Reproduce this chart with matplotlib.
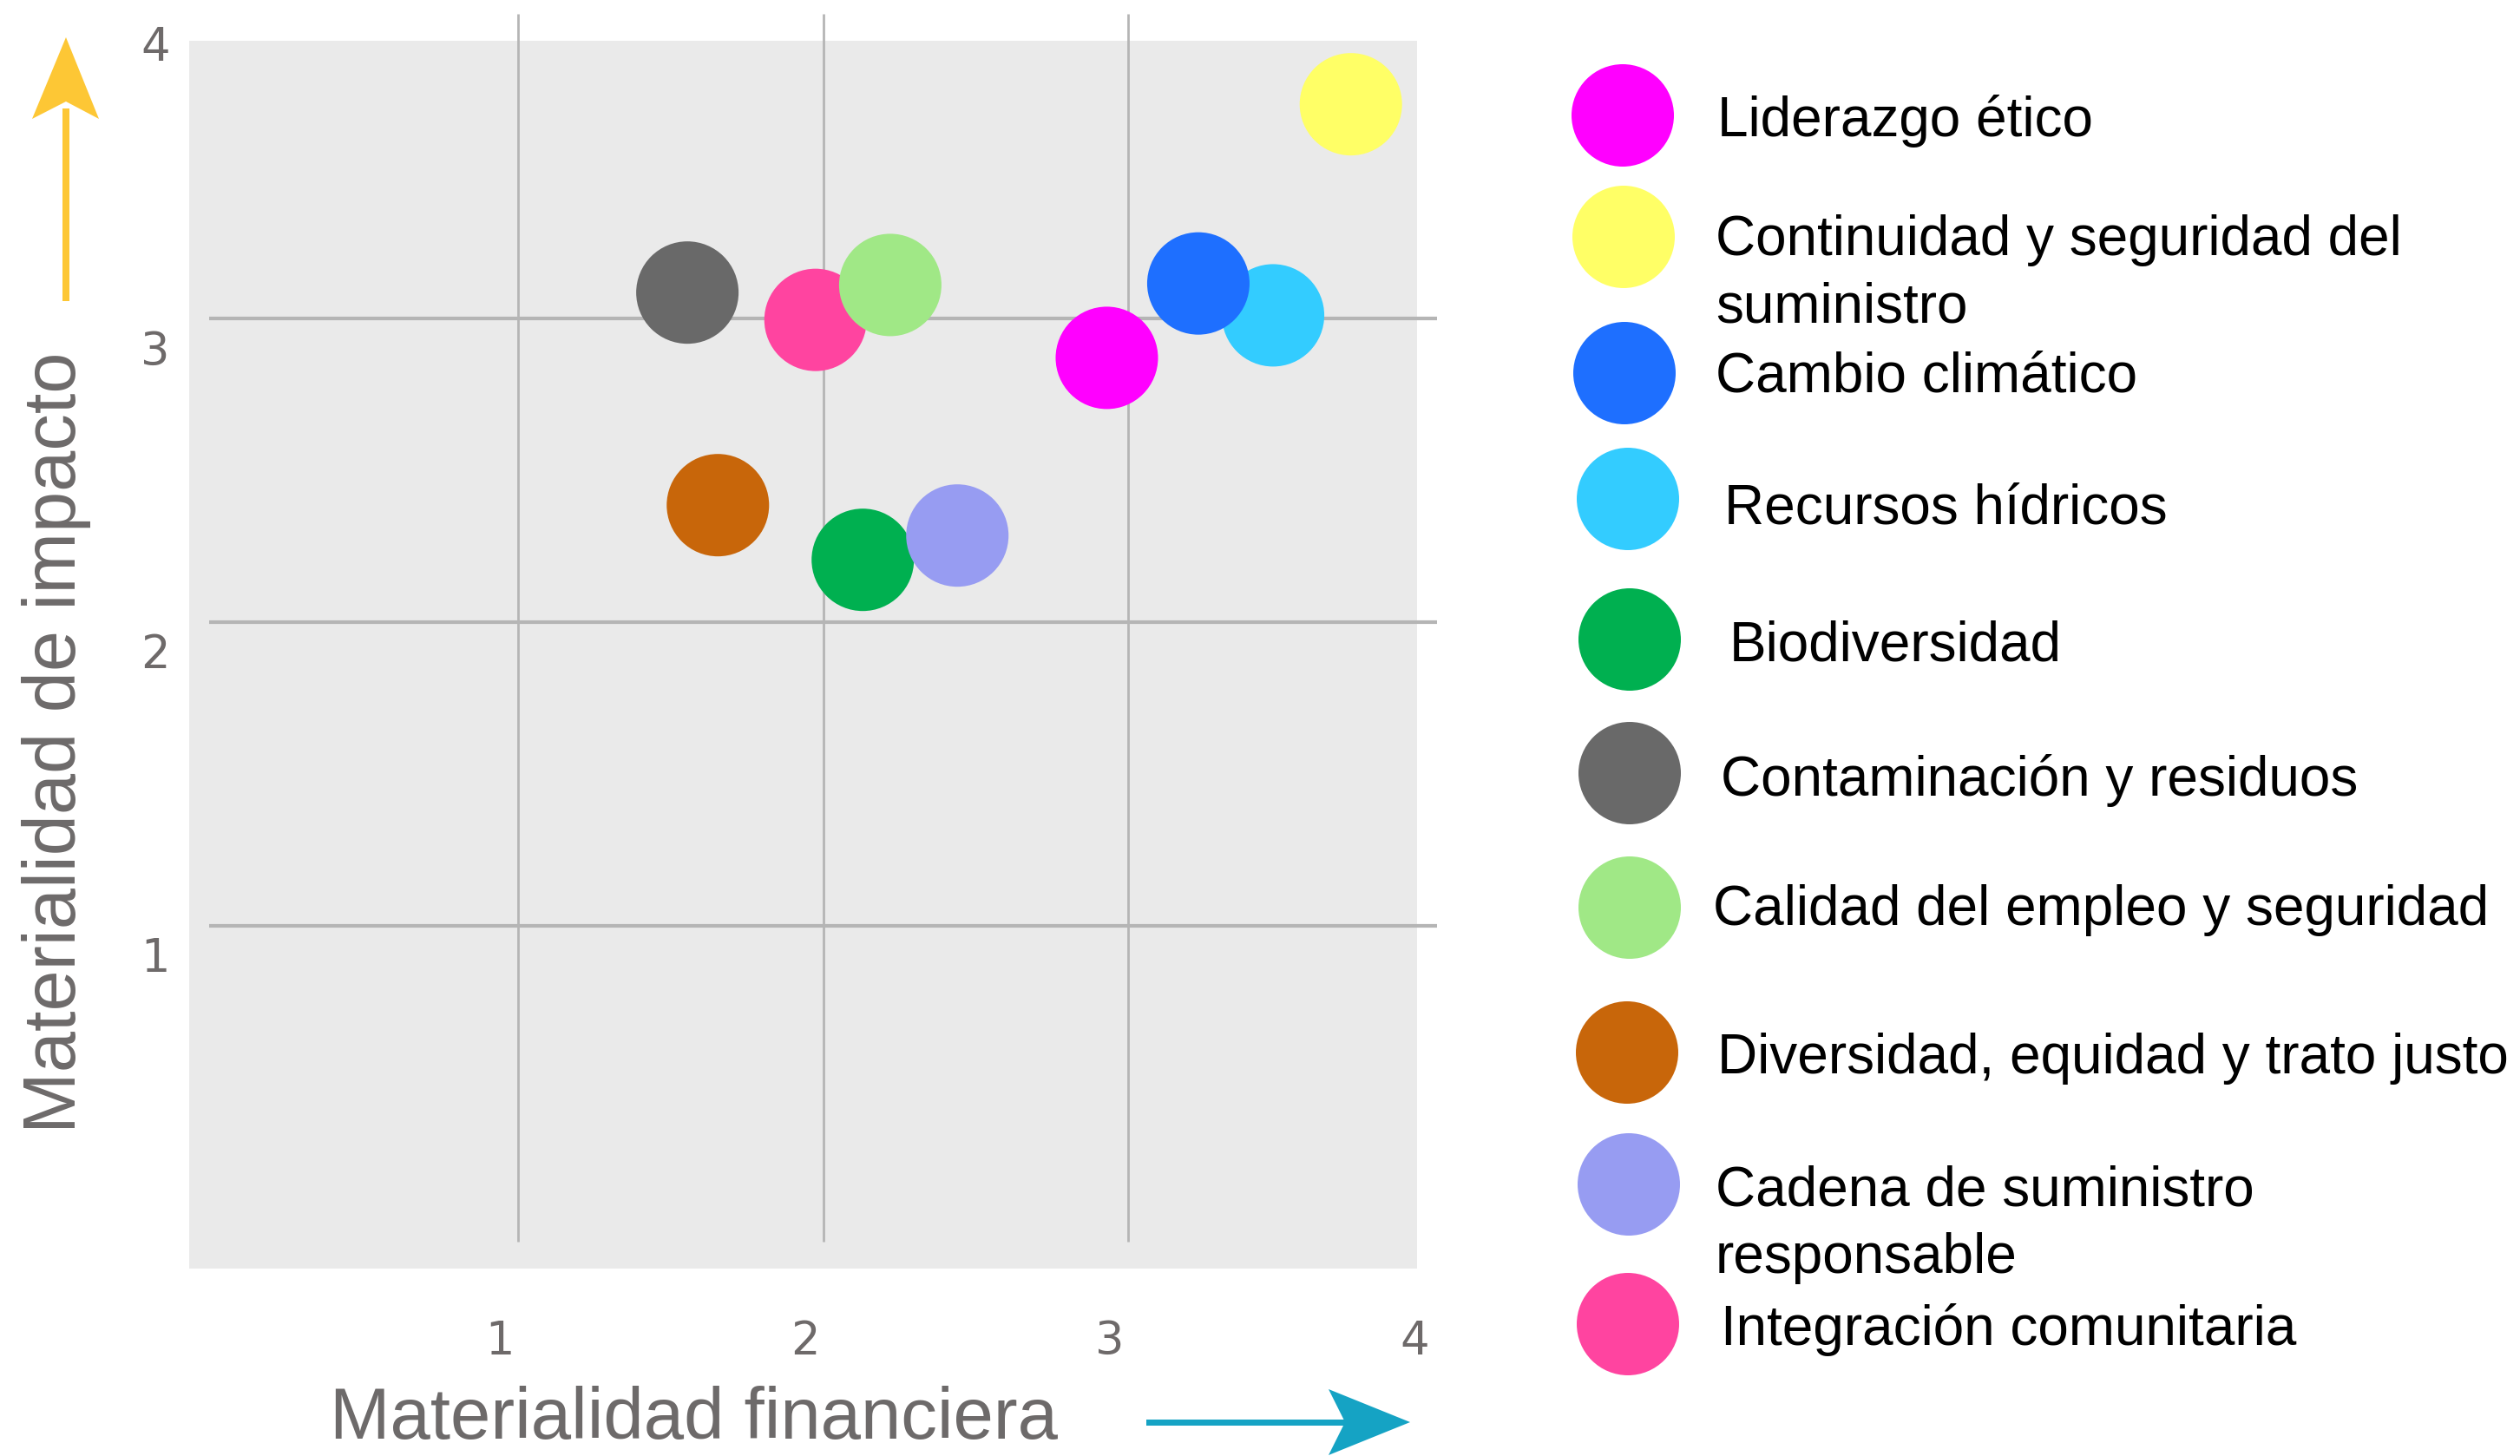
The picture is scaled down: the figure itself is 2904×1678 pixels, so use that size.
import matplotlib
matplotlib.use("Agg")
import matplotlib.pyplot as plt
from matplotlib.patches import Polygon, Rectangle
import numpy as np

# ---------------- data ----------------
categories = [
    "Liderazgo ético",
    "Continuidad y seguridad del\nsuministro",
    "Cambio climático",
    "Recursos hídricos",
    "Biodiversidad",
    "Contaminación y residuos",
    "Calidad del empleo y seguridad",
    "Diversidad, equidad y trato justo",
    "Cadena de suministro\nresponsable",
    "Integración comunitaria",
]
financial = [2.93, 3.73, 3.23, 3.475, 2.13, 1.555, 2.22, 1.655, 2.44, 1.975]
impact = [2.87, 3.705, 3.115, 3.01, 2.205, 3.085, 3.11, 2.385, 2.285, 2.995]
colors = ["#FF00FF", "#FFFF66", "#1E6FFF", "#33CCFF", "#00B050",
          "#696969", "#A0E886", "#C8660A", "#979CF2", "#FF44A0"]
draw_order = [3, 2, 0, 1, 9, 6, 5, 4, 8, 7]

x_ticks = [1, 2, 3, 4]
y_ticks = [1, 2, 3, 4]
x_label = "Materialidad financiera"
y_label = "Materialidad de impacto"

# ---------------- figure ----------------
W, H, DPI = 2904, 1678, 100
fig = plt.figure(figsize=(W / DPI, H / DPI), dpi=DPI)

def fx(px):
    return px / W

def fy(py):
    return 1 - py / H

# main axes = grey panel (pixels 218..1633 x 47..1462)
pl, pr, pt, pb = 218, 1633, 47, 1462
ax = fig.add_axes([fx(pl), fy(pb), (pr - pl) / W, (pb - pt) / H])
ax.set_facecolor("#EAEAEA")
for s in ax.spines.values():
    s.set_visible(False)
ax.set_xlim(-0.0782, 3.947)
ax.set_ylim(-0.1286, 3.914)
ax.set_xticks([])
ax.set_yticks([])

grid_c = "#B5B5B5"
for yv in y_ticks[:-1]:
    ax.plot([-0.013, 4.013], [yv, yv], color=grid_c, lw=3.0, clip_on=False, zorder=1,
            solid_capstyle="butt")
for xv in x_ticks[:-1]:
    ax.plot([xv, xv], [-0.04, 4.003], color=grid_c, lw=2.0, clip_on=False, zorder=1,
            solid_capstyle="butt")

msize = (118 * 72 / DPI) ** 2
for i in draw_order:
    ax.scatter([financial[i]], [impact[i]], s=msize, color=colors[i],
               edgecolors="none", zorder=3 + draw_order.index(i), clip_on=False)

tick_c = "#6E6A6A"
for t in x_ticks:
    ax.text(t - 0.06, -0.369, str(t), ha="center", va="center", fontsize=38,
            color=tick_c, family="DejaVu Sans", clip_on=False)
for t in y_ticks:
    ax.text(-0.19, t - 0.11, str(t), ha="center", va="center", fontsize=38,
            color=tick_c, family="DejaVu Sans", clip_on=False)

# overlay axes in pixel coordinates for decorations
ov = fig.add_axes([0, 0, 1, 1], facecolor="none")
ov.set_xlim(0, W)
ov.set_ylim(H, 0)
ov.axis("off")

lab_c = "#6D6A6A"
ov.text(800, 1658, x_label, ha="center", va="baseline", fontsize=60, color=lab_c,
        family="Liberation Sans")
ov.text(65, 856, y_label, ha="center", va="center", fontsize=61, color=lab_c,
        family="Liberation Sans", rotation=90)

# arrows
yellow = "#FDC735"
ov.add_patch(Rectangle((72, 125), 8, 222, color=yellow, lw=0))
ov.add_patch(Polygon([(76, 43), (114, 137), (76, 117), (37, 137)], closed=True,
                     color=yellow, lw=0))
teal = "#15A3C4"
ov.add_patch(Rectangle((1321, 1636), 235, 7, color=teal, lw=0))
ov.add_patch(Polygon([(1625, 1639), (1531, 1677), (1550, 1639), (1531, 1601)],
                     closed=True, color=teal, lw=0))

# legend
leg_cx = [1870, 1871, 1872, 1876, 1878, 1878, 1878, 1875, 1877, 1876]
leg_cy = [133, 273, 430, 575, 737, 891, 1046, 1213, 1365, 1526]
leg_tx = [1979, 1977, 1977, 1987, 1993, 1983, 1974, 1979, 1977, 1983]
leg_ty = [157, 294, 451, 603, 762, 917, 1066, 1237, 1390, 1550]
for i, name in enumerate(categories):
    ov.scatter([leg_cx[i]], [leg_cy[i]], s=msize, color=colors[i], edgecolors="none")
    lines = name.split("\n")
    for k, line in enumerate(lines):
        ov.text(leg_tx[i], leg_ty[i] + 77 * k, line, ha="left", va="baseline",
                fontsize=46, color="black", family="Liberation Sans")

fig.savefig("out.png", dpi=DPI, facecolor="white")
